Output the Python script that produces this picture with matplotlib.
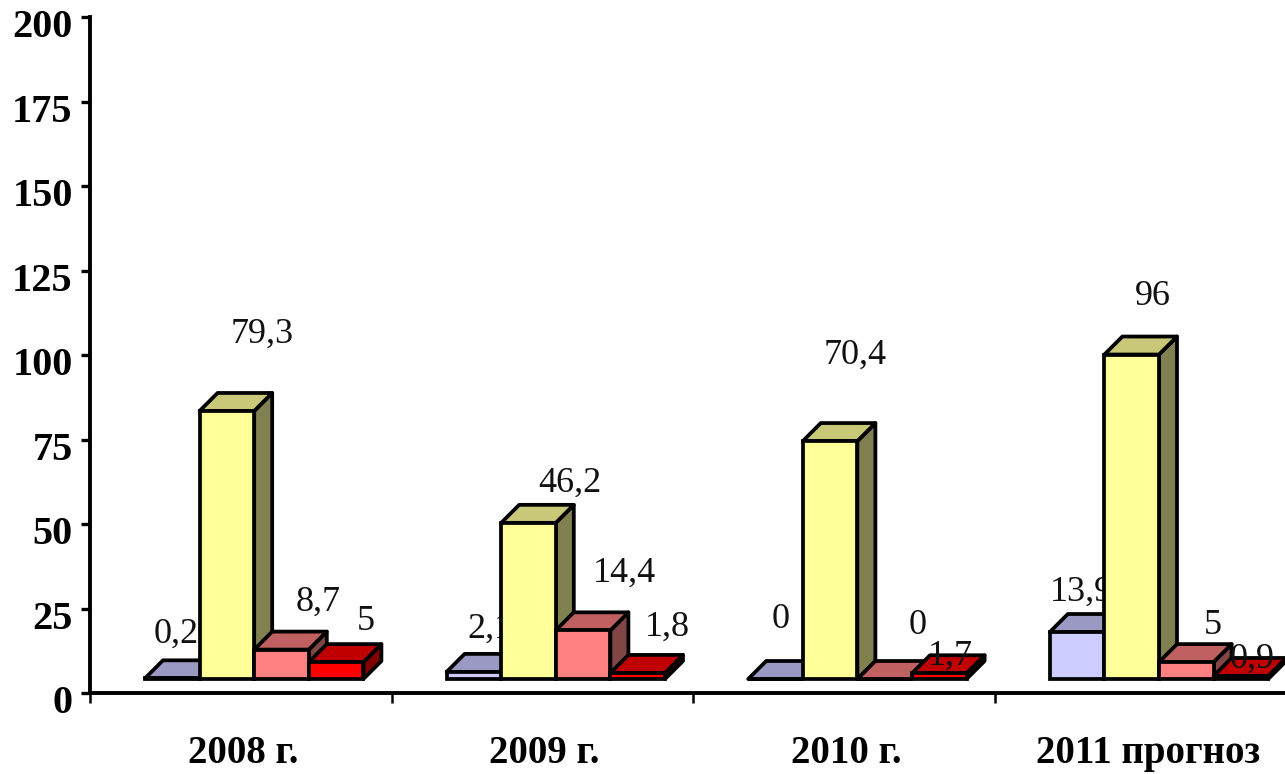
import matplotlib
matplotlib.use("Agg")
import matplotlib.pyplot as plt
from matplotlib.transforms import ScaledTranslation

categories = ["2008 г.", "2009 г.", "2010 г.", "2011 прогноз"]
series_a = [0.2, 2.1, 0, 13.9]
series_b = [79.3, 46.2, 70.4, 96]
series_c = [8.7, 14.4, 0, 5]
series_d = [5, 1.8, 1.7, 0.9]
y_ticks = [0, 25, 50, 75, 100, 125, 150, 175, 200]

# layout / style (not data)
W, H = 1285, 774
LEFT, BASE, TOP = 90, 693, 17
GROUP_PX = 301.6
BAR_PX = 54.6
START_PX = 55
DEPTH_PX = 18
FLOOR_PX = 14
faces = [("#CCCCFF", "#9999C4", "#666690"),
         ("#FFFF99", "#C8C878", "#808050"),
         ("#FF8080", "#C06060", "#804545"),
         ("#FF0000", "#C00000", "#800000")]
# label offsets in pixels from the top-front-centre of each bar
label_dx = [[4, 35, 37, 30], [16, 41, 41, 30], [5, 25, 33, 11], [4, 21, 27, 11]]
label_dy = [[44, 77, 47, 41], [43, 40, 57, 46], [60, 86, 54, 17], [40, 58, 37, 17]]

fig = plt.figure(figsize=(W / 100, H / 100), dpi=100)
ax = fig.add_axes([LEFT / W, 1 - BASE / H, (W - LEFT) / W, (BASE - TOP) / H])
ax.patch.set_alpha(0)
ax.set_xlim(0, (W - LEFT) / GROUP_PX)
ax.set_ylim(0, 200)

px_x = 1 / GROUP_PX
px_y = 200 / (BASE - TOP)
bw = BAR_PX * px_x
dx = DEPTH_PX * px_x
dy = DEPTH_PX * px_y
floor = FLOOR_PX * px_y
lw = 2.7
serif = "Liberation Serif"

all_series = [series_a, series_b, series_c, series_d]
for g in range(len(categories)):
    for s, vals in enumerate(all_series):
        v = vals[g]
        x0 = g + START_PX * px_x + s * bw
        x1 = x0 + bw
        y0 = floor
        y1 = floor + v
        z = 3 + g * 10 + s * 2
        front, top, side = faces[s]
        kw = dict(edgecolor="black", linewidth=lw, joinstyle="round", clip_on=True)
        ax.fill([x1, x1 + dx, x1 + dx, x1], [y0, y0 + dy, y1 + dy, y1],
                facecolor=side, zorder=z, **kw)
        ax.fill([x0, x0 + dx, x1 + dx, x1], [y1, y1 + dy, y1 + dy, y1],
                facecolor=top, zorder=z, **kw)
        ax.bar(x0, v, width=bw, bottom=y0, align="edge", color=front,
               edgecolor="black", linewidth=lw, zorder=z)
        text = f"{v:g}".replace(".", ",")
        ax.annotate(text, xy=(x0 + bw / 2, y1),
                    xytext=(label_dx[g][s] * 0.72, label_dy[g][s] * 0.72),
                    textcoords="offset points", ha="center", va="center",
                    fontsize=26, family=serif, color="#111111",
                    zorder=z + 1, annotation_clip=False)

for side in ("top", "right"):
    ax.spines[side].set_visible(False)
for side in ("left", "bottom"):
    ax.spines[side].set_linewidth(2.8)
    ax.spines[side].set_zorder(100)

ax.set_yticks(y_ticks)
ax.set_yticklabels([str(t) for t in y_ticks], fontsize=29, fontweight="bold", family=serif)
ax.tick_params(axis="y", length=6.5, width=2.4, pad=6)
shift = ScaledTranslation(0, -4.5 / 72, fig.dpi_scale_trans)
for lab in ax.get_yticklabels():
    lab.set_transform(lab.get_transform() + shift)

ax.set_xticks(range(len(categories)))
ax.set_xticklabels([])
ax.tick_params(axis="x", which="major", length=7, width=1.8, direction="out")
ax.set_xticks([i + 0.5 for i in range(len(categories))], minor=True)
ax.set_xticklabels(categories, minor=True, fontsize=28, fontweight="bold", family=serif)
ax.tick_params(axis="x", which="minor", length=0, pad=30)
shift_x = ScaledTranslation(1.5 / 72, 0, fig.dpi_scale_trans)
for lab in ax.get_xticklabels(minor=True):
    lab.set_transform(lab.get_transform() + shift_x)

fig.savefig("out.png", dpi=100, facecolor="white")
